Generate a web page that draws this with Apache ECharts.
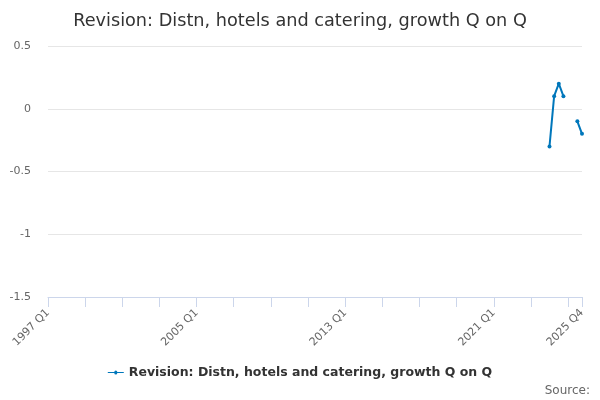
<!DOCTYPE html>
<html>
<head>
<meta charset="utf-8">
<script src="https://cdn.jsdelivr.net/npm/echarts@6/dist/echarts.min.js"></script>
<style>
  html, body { margin: 0; padding: 0; background: #fff; }
  #chart { width: 600px; height: 400px; }
</style>
</head>
<body>
<div id="chart"></div>
<script>
// quarters 1997 Q1 .. 2025 Q4
const quarters = [];
for (let y = 1997; y <= 2025; y++) {
    for (let q = 1; q <= 4; q++) quarters.push(y + ' Q' + q);
}

const seriesName = 'Revision: Distn, hotels and catering, growth Q on Q';
// only the last quarters have values, the rest are empty
const revisedQuarters = ['2024 Q1', '2024 Q2', '2024 Q3', '2024 Q4', '2025 Q1', '2025 Q2', '2025 Q3', '2025 Q4'];
const revisedValues = [-0.3, 0.1, 0.2, 0.1, null, null, -0.1, -0.2];

const yTicks = [0.5, 0, -0.5, -1, -1.5];

const values = quarters.map(function (q) {
    const i = revisedQuarters.indexOf(q);
    return i < 0 ? null : revisedValues[i];
});
const last = quarters.length - 1;

const myChart = echarts.init(document.getElementById('chart'));
myChart.setOption({
    animation: false,
    textStyle: { fontFamily: 'DejaVu Sans' },
    title: {
        text: 'Revision: Distn, hotels and catering, growth Q on Q',
        left: 'center',
        top: 7,
        textStyle: { fontSize: 17.7, fontWeight: 'normal', color: '#333333' }
    },
    grid: { left: 48, right: 18, top: 46, bottom: 103 },
    xAxis: {
        type: 'category',
        data: quarters,
        boundaryGap: false,
        axisLine: { onZero: false, lineStyle: { color: '#ccd6eb' } },
        axisTick: {
            length: 10,
            lineStyle: { color: '#ccd6eb' },
            interval: function (i) { return i % 8 === 0 || i === last; }
        },
        axisLabel: {
            rotate: 45,
            color: '#666666',
            fontSize: 11,
            margin: 14,
            interval: function (i) { return i % 32 === 0 || i === last; }
        },
        splitLine: { show: false }
    },
    yAxis: {
        type: 'value',
        min: yTicks[yTicks.length - 1],
        max: yTicks[0],
        interval: 0.5,
        axisLine: { show: false },
        axisTick: { show: false },
        axisLabel: { color: '#666666', fontSize: 11, margin: 17 },
        splitLine: { lineStyle: { color: '#e6e6e6' } }
    },
    legend: {
        bottom: 16,
        left: 'center',
        itemWidth: 16,
        itemHeight: 4,
        textStyle: { fontSize: 12.5, fontWeight: 'bold', color: '#333333' },
        data: [{ name: seriesName, icon: 'path://M0,1.5H6.5A1.5,1.5 0 1 1 9.5,1.5H16V2.5H9.5A1.5,1.5 0 1 1 6.5,2.5H0Z' }]
    },
    graphic: [{
        type: 'text',
        right: 10,
        bottom: 3,
        style: { text: 'Source:', fontSize: 12, fill: '#666666', fontFamily: 'DejaVu Sans' }
    }],
    series: [{
        name: seriesName,
        type: 'line',
        data: values,
        connectNulls: false,
        symbol: 'circle',
        symbolSize: 4,
        showSymbol: true,
        showAllSymbol: true,
        lineStyle: { width: 2, color: '#0077bb' },
        itemStyle: { color: '#0077bb' }
    }]
});
</script>
</body>
</html>
